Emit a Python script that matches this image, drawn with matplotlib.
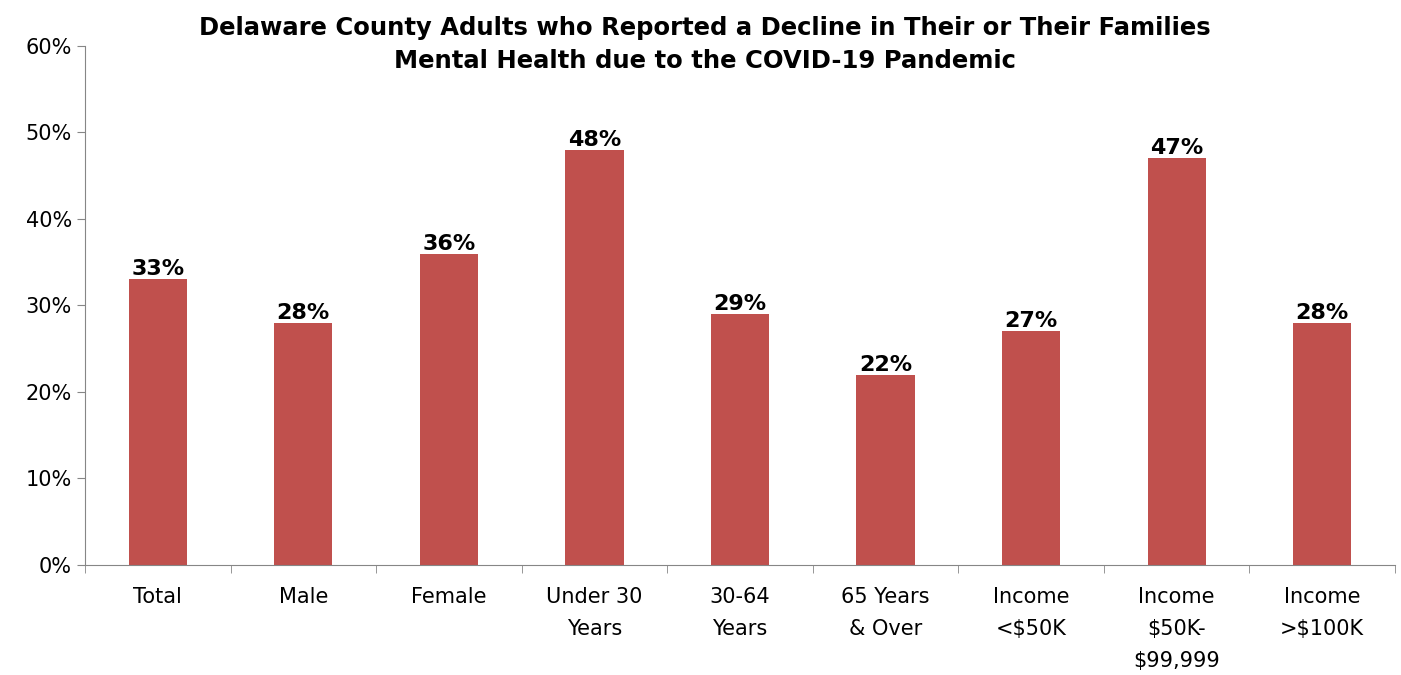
import matplotlib
matplotlib.use("Agg")
import matplotlib.pyplot as plt
import numpy as np

categories = ["Total", "Male", "Female", "Under 30\nYears", "30-64\nYears",
              "65 Years\n& Over", "Income\n<$50K", "Income\n$50K-\n$99,999", "Income\n>$100K"]
values = [33, 28, 36, 48, 29, 22, 27, 47, 28]
yticks = [0, 10, 20, 30, 40, 50, 60]
title = "Delaware County Adults who Reported a Decline in Their or Their Families\nMental Health due to the COVID-19 Pandemic"

plt.rcParams['font.family'] = ['DejaVu Sans']
fig = plt.figure(figsize=(14.01, 6.75), dpi=100)
ax = fig.add_axes([0.0607, 0.163, 0.935, 0.769])

x = np.arange(len(categories))
bars = ax.bar(x, values, width=0.4, color="#C0504D", zorder=2)
for xi, v in zip(x, values):
    ax.text(xi, v, f"{v}%", ha="center", va="bottom", fontsize=16, fontweight="bold", color="black")

ax.set_xlim(-0.5, len(categories) - 0.5)
ax.set_ylim(0, 60)
ax.set_yticks(yticks)
ax.set_yticklabels([f"{t}%" for t in yticks], fontsize=15)
ax.set_xticks(x)
ax.set_xticklabels(categories, fontsize=15, va="top", linespacing=1.75)
ax.tick_params(axis="x", length=0, pad=16)
ax.set_xticks(np.arange(-0.5, len(categories), 1), minor=True)
ax.tick_params(axis="x", which="minor", length=6, color="#868686")
ax.tick_params(axis="y", length=6, color="#868686")
for s in ["top", "right"]:
    ax.spines[s].set_visible(False)
for s in ["left", "bottom"]:
    ax.spines[s].set_color("#868686")

fig.text(0.503, 0.976, title, ha="center", va="top", fontsize=17.5, fontweight="bold", linespacing=1.45)

fig.savefig("out.png", dpi=100)
